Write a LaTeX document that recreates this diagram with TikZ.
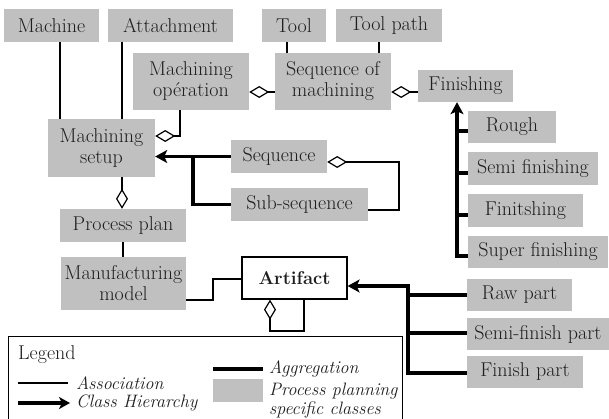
\documentclass[tikz,border=0pt]{standalone}
\usepackage{fontspec}
\usetikzlibrary{arrows.meta,calc}
\definecolor{boxgray}{RGB}{192,192,192}
\definecolor{txt}{RGB}{30,30,30}
\newcommand{\fsz}{\fontsize{20}{21}\selectfont}
\newcommand{\lsz}{\fontsize{18}{18.5}\selectfont}
\begin{document}
\begin{tikzpicture}[x=1pt,y=-1pt,
  box/.style={fill=boxgray, inner sep=0pt, align=center, text=txt, font=\fsz},
  assoc/.style={line width=1.2pt},
  heavy/.style={line width=3.2pt},
  harrow/.style={heavy, -{Stealth[length=12pt,width=13pt,inset=3pt]}},
  agg/.style={assoc, -{Diamond[open,length=20pt,width=12pt]}},
  ltext/.style={anchor=west, inner sep=0pt, text=txt, font=\lsz\itshape}]
\useasboundingbox (0,0) rectangle (609,418);
\clip (0,0) rectangle (609,418);
% boxes
\node[box, minimum width=95pt, minimum height=33pt] (machine) at (51.5,25.5) {Machine};
\node[box, minimum width=125pt, minimum height=33pt] (attach) at (170.5,25.5) {Attachment};
\node[box, minimum width=64pt, minimum height=33pt] (tool) at (294,25.5) {Tool};
\node[box, minimum width=106pt, minimum height=33pt] (toolpath) at (389,25.5) {Tool path};
\node[box, minimum width=116pt, minimum height=57pt] (mop) at (191,81.5) {Machining\\opération};
\node[box, minimum width=116pt, minimum height=57pt] (som) at (333,81.5) {Sequence of\\machining};
\node[box, minimum width=95pt, minimum height=32pt] (fin) at (465.5,86) {Finishing};
\node[box, minimum width=107pt, minimum height=58pt] (setup) at (101.5,148) {Machining\\setup};
\node[box, minimum width=96pt, minimum height=33pt] (seq) at (279,156.5) {Sequence};
\node[box, minimum width=137pt, minimum height=33pt] (subseq) at (299.5,204.5) {Sub-sequence};
\node[box, minimum width=88pt, minimum height=32pt] (rough) at (512,127) {Rough};
\node[box, minimum width=130pt, minimum height=33pt] (semi) at (533,168.5) {Semi finishing};
\node[box, minimum width=115pt, minimum height=33pt] (finit) at (525.5,210.5) {Finitshing};
\node[box, minimum width=140pt, minimum height=32pt] (superf) at (538,252) {Super finishing};
\node[box, minimum width=126pt, minimum height=33pt] (pplan) at (123,225.5) {Process plan};
\node[box, minimum width=125pt, minimum height=53pt] (mfg) at (123.5,283.5) {Manufacturing\\model};
\node[box, fill=white, draw=black, line width=1.2pt, minimum width=105pt, minimum height=42pt, font=\fontsize{18.5}{21}\selectfont\bfseries] (artifact) at (294.5,278) {Artifact};
\node[box, minimum width=105pt, minimum height=32pt] (raw) at (519.5,295) {Raw part};
\node[box, minimum width=142pt, minimum height=32pt] (semip) at (538,334) {Semi-finish part};
\node[box, minimum width=116pt, minimum height=32pt] (finp) at (525,372) {Finish part};
% associations
\draw[assoc] (60,0 |- machine.south) -- (60,0 |- setup.north);
\draw[assoc] (122,0 |- attach.south) -- (122,0 |- setup.north);
\draw[assoc] (287,0 |- tool.south) -- (287,0 |- som.north);
\draw[assoc] (379,0 |- toolpath.south) -- (379,0 |- som.north);
\draw[assoc] (123,0 |- pplan.south) -- (123,0 |- mfg.north);
\draw[assoc] (mfg.east |- 0,300) -- (213,300) -- (213,279) -- (artifact.west |- 0,279);
% aggregations
\draw[agg] (180,0 |- mop.south) |- (setup.east |- 0,136);
\draw[agg] (som.west |- 0,92) -- (mop.east |- 0,92);
\draw[agg] (fin.west |- 0,92) -- (som.east |- 0,92);
\draw[agg] (122,0 |- setup.south) -- (122,0 |- pplan.north);
\draw[agg] (subseq.east |- 0,210) -| (399,162) -- (seq.east |- 0,162);
\draw[agg] (304,0 |- artifact.south) |- (270,331) -- (270,0 |- artifact.south);
% class hierarchy
\draw[harrow] (seq.west) -- (setup.east |- seq.west);
\draw[heavy] (subseq.west) -| (193,0 |- seq.west);
\draw[harrow] (superf.west |- 0,256) -| (457,0 |- fin.south);
\draw[heavy] (457,131) -- (rough.west |- 0,131);
\draw[heavy] (457,173) -- (semi.west |- 0,173);
\draw[heavy] (457,215) -- (finit.west |- 0,215);
\draw[harrow] (finp.west |- 0,373) -| (408,286) -- (artifact.east |- 0,286);
\draw[heavy] (408,295) -- (raw.west |- 0,295);
\draw[heavy] (408,333) -- (semip.west |- 0,333);
% legend
\node[draw=black, line width=1.2pt, minimum width=394pt, minimum height=110pt, anchor=north west, inner sep=0pt] (legend) at (8,336) {};
\node[anchor=west, inner sep=0pt, text=txt, font=\fsz] (legtitle) at (18,355) {Legend};
\coordinate (la1) at (18,383); \coordinate (la2) at (68,383);
\draw[assoc] (la1) -- (la2);
\node[ltext] (latext) at (76,383) {Association};
\coordinate (lc1) at (18,403); \coordinate (lc2) at (70,403);
\draw[heavy, -{Stealth[length=11pt,width=12pt,inset=3pt]}] (lc1) -- (lc2);
\node[ltext] (lctext) at (76,403) {Class Hierarchy};
\coordinate (lg1) at (213,369); \coordinate (lg2) at (263,369);
\draw[heavy] (lg1) -- (lg2);
\node[ltext] (lgtext) at (269,369) {Aggregation};
\node[fill=boxgray, minimum width=50pt, minimum height=23pt, inner sep=0pt, anchor=north west] (lbox) at (213,379) {};
\node[ltext, align=left, anchor=north west] (lptext) at (269,383) {Process planning\\specific classes};
\end{tikzpicture}
\end{document}
